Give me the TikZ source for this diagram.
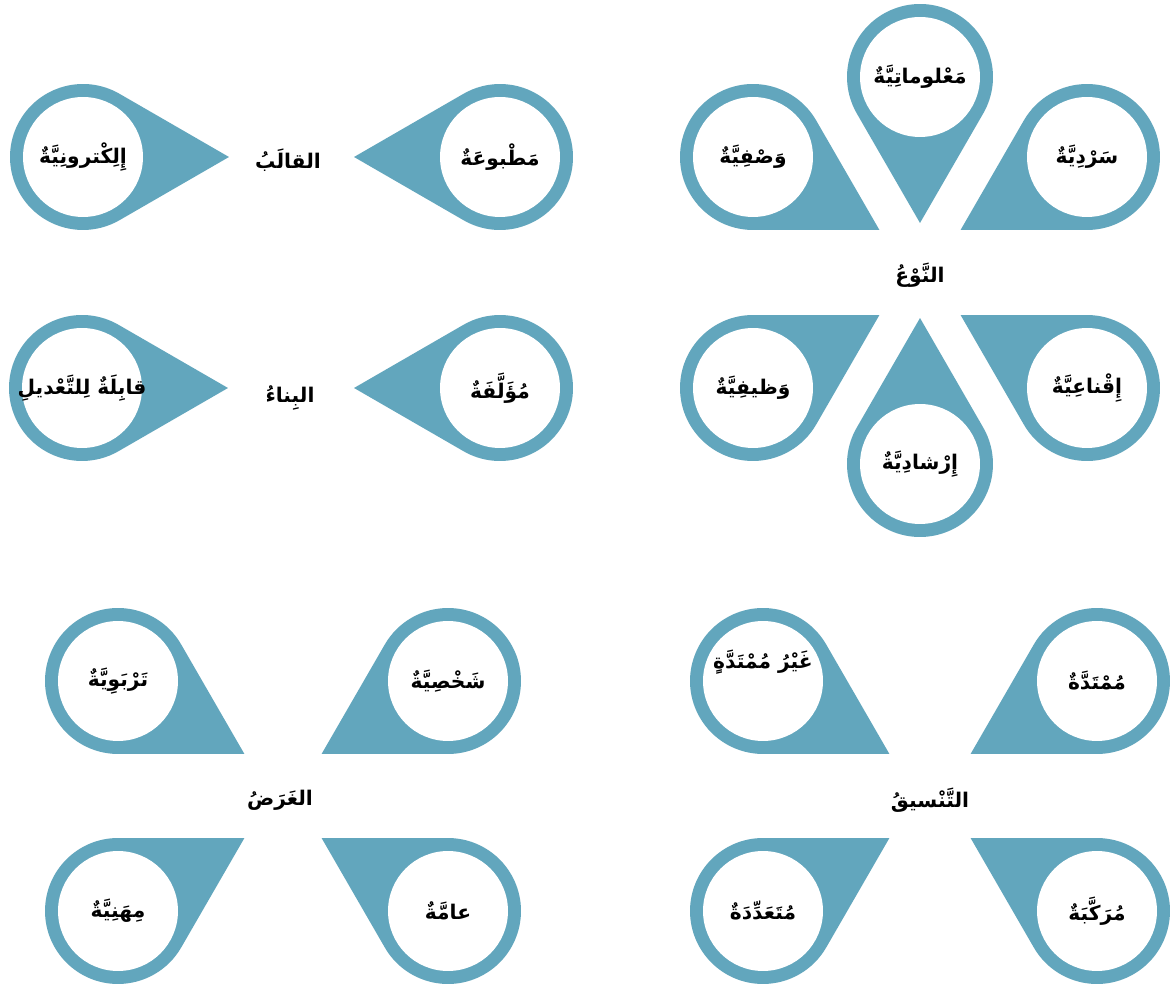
\documentclass[tikz,border=0pt]{standalone}
\usepackage{fontspec}
\newfontfamily\arabicfont[Script=Arabic]{DejaVu Sans}
\TeXXeTstate=1
\usetikzlibrary{calc}
\definecolor{dropteal}{RGB}{98,166,189}

\begin{document}
\begin{tikzpicture}[
    x=0.02cm, y=0.02cm,
    font=\arabicfont\bfseries\fontsize{11.5}{14}\selectfont,
    dropbody/.style={fill=dropteal},
    dropface/.style={fill=white},
    itemtext/.style={inner sep=1pt, align=center},
    hublabel/.style={inner sep=1pt}
]
\fill[white] (0,0) rectangle (1174,988);
\useasboundingbox (0,0) rectangle (1174,988);

% centre labels
\node[hublabel] (format) at (288,828) {\beginR القالَبُ\endR};
\node[hublabel] (build) at (290,590) {\beginR البِناءُ\endR};
\node[hublabel] (kind) at (920,713) {\beginR النَّوْعُ\endR};
\node[hublabel] (purpose) at (280,188) {\beginR الغَرَضُ\endR};
\node[hublabel] (layout) at (930,188) {\beginR التَّنْسيقُ\endR};

% teardrops: centre x / centre y / tip angle / name / text shift / text
\foreach \cx/\cy/\ang/\nm/\dy/\txt in {
    83/831/0/eform/0/إِلِكْترونِيَّةٌ, 500/831/180/print/0/مَطْبوعَةٌ,
    82/600/0/editable/0/قابِلَةٌ لِلتَّعْديلِ, 500/600/180/composed/0/مُؤَلَّفَةٌ,
    753/831/-30/descr/0/وَصْفِيَّةٌ, 920/911/-90/info/0/مَعْلوماتِيَّةٌ,
    1087/831/210/narr/0/سَرْدِيَّةٌ, 753/600/30/func/0/وَظيفِيَّةٌ,
    920/524/90/guide/0/إِرْشادِيَّةٌ, 1087/600/150/persuade/0/إِقْناعِيَّةٌ,
    118/307/-30/edu/0/تَرْبَوِيَّةٌ, 448/307/210/personal/0/شَخْصِيَّةٌ,
    118/77/30/career/0/مِهَنِيَّةٌ, 448/77/150/general/0/عامَّةٌ,
    763/307/-30/nonext/19/غَيْرُ مُمْتَدَّةٍ, 1097/307/210/ext/0/مُمْتَدَّةٌ,
    763/77/30/multi/0/مُتَعَدِّدَةٌ, 1097/77/150/compound/0/مُرَكَّبَةٌ}
{
  \fill[dropbody] ($(\cx,\cy)+(\ang:2.92cm)$) -- ($(\cx,\cy)+({\ang+60}:1.46cm)$)
    arc[start angle={\ang+60}, end angle={\ang+300}, radius=1.46cm] -- cycle;
  \fill[dropface] (\cx,\cy) circle[radius=1.2cm];
  \node[itemtext] (\nm) at (\cx,\cy+\dy) {\beginR\txt\endR};
}
\end{tikzpicture}
\end{document}
